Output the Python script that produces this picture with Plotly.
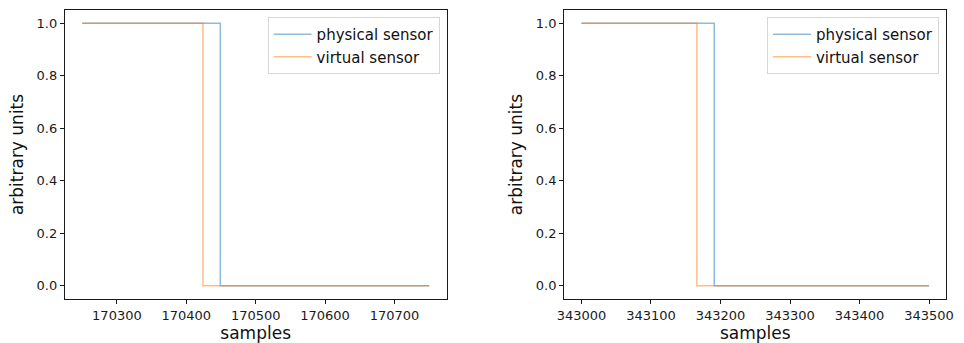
import plotly.graph_objects as go

# Left panel (step change points)
left_samples_phys = [170250, 170449, 170750]
left_phys = [1, 0, 0]
left_samples_virt = [170250, 170424, 170750]
left_virt = [1, 0, 0]
left_ticks = [170300, 170400, 170500, 170600, 170700]

# Right panel
right_samples_phys = [343000, 343191, 343500]
right_phys = [1, 0, 0]
right_samples_virt = [343000, 343166, 343500]
right_virt = [1, 0, 0]
right_ticks = [343000, 343100, 343200, 343300, 343400, 343500]

y_ticks = [0.0, 0.2, 0.4, 0.6, 0.8, 1.0]

BLUE = "#1f77b4"
ORANGE = "#ff7f0e"
W, H = 964, 343
FONT = "DejaVu Sans"

fig = go.Figure()

def add_pair(xp, yp, xv, yv, xa, ya, leg):
    fig.add_trace(go.Scatter(x=xp, y=yp, mode="lines", line_shape="hv",
                             line=dict(color=BLUE, width=1.5), opacity=0.5,
                             name="physical sensor", xaxis=xa, yaxis=ya, legend=leg))
    fig.add_trace(go.Scatter(x=xv, y=yv, mode="lines", line_shape="hv",
                             line=dict(color=ORANGE, width=1.5), opacity=0.5,
                             name="virtual sensor", xaxis=xa, yaxis=ya, legend=leg))

add_pair(left_samples_phys, left_phys, left_samples_virt, left_virt, "x", "y", "legend")
add_pair(right_samples_phys, right_phys, right_samples_virt, right_virt, "x2", "y2", "legend2")

def pad(lo, hi):
    d = (hi - lo) * 0.05
    return [lo - d, hi + d]

axis_common = dict(showgrid=False, zeroline=False, showline=True, mirror=True,
                   linecolor="#1a1a1a", linewidth=1, ticks="outside", ticklen=4,
                   tickcolor="#1a1a1a", tickwidth=1,
                   tickfont=dict(family=FONT, size=13, color="#1a1a1a"))

ydom = [1 - 299 / H, 1 - 10 / H]
legend_common = dict(xanchor="right", y=1 - 17 / H, yanchor="top",
                     bgcolor="rgba(255,255,255,0.8)", bordercolor="#d6d6d6", borderwidth=1,
                     font=dict(family=FONT, size=15, color="#111"), tracegroupgap=0,
                     itemwidth=38)

fig.update_layout(
    width=W, height=H, margin=dict(l=0, r=0, t=0, b=0),
    plot_bgcolor="white", paper_bgcolor="white",
    font=dict(family=FONT, color="#111"),
    xaxis=dict(domain=[58.7 / W, 446 / W], range=pad(170250, 170750),
               tickvals=left_ticks, ticktext=[str(t) for t in left_ticks],
               title=dict(text="samples", font=dict(family=FONT, size=17), standoff=2),
               anchor="y", **axis_common),
    yaxis=dict(domain=ydom, range=[-0.05, 1.05], tickvals=y_ticks,
               ticktext=[f"{v:.1f}" for v in y_ticks],
               title=dict(text="arbitrary units", font=dict(family=FONT, size=17), standoff=8),
               anchor="x", **axis_common),
    xaxis2=dict(domain=[565.3 / W, 953.3 / W], range=pad(343000, 343500),
                tickvals=right_ticks, ticktext=[str(t) for t in right_ticks],
                title=dict(text="samples", font=dict(family=FONT, size=17), standoff=2),
                anchor="y2", **axis_common),
    yaxis2=dict(domain=ydom, range=[-0.05, 1.05], tickvals=y_ticks,
                ticktext=[f"{v:.1f}" for v in y_ticks],
                title=dict(text="arbitrary units", font=dict(family=FONT, size=17), standoff=8),
                anchor="x2", **axis_common),
    legend=dict(x=439 / W, **legend_common),
    legend2=dict(x=945.7 / W, **legend_common),
)

fig.write_html("out.html", config={"displayModeBar": False},
               post_script="document.body.style.margin='0';document.body.style.padding='0';")
